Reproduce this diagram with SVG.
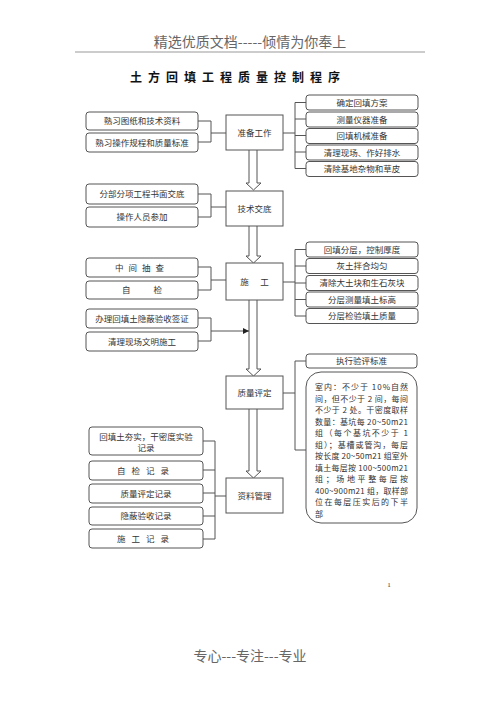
<svg xmlns="http://www.w3.org/2000/svg" width="500" height="708" viewBox="0 0 500 708">
<style>
.box{fill:#fff;stroke:#555;stroke-width:1}
.ln{fill:none;stroke:#555;stroke-width:1}
.arr{fill:#fff;stroke:#555;stroke-width:1}
.t{font-family:"Noto Sans CJK SC","Liberation Serif",serif;font-size:8.5px;fill:#333;text-anchor:middle}
.s{font-family:"Noto Sans CJK SC","Liberation Serif",serif;font-size:8px;fill:#333}
</style>
<defs>
<marker id="ah" viewBox="0 0 6 6" refX="6" refY="3" markerWidth="6" markerHeight="6" orient="auto" markerUnits="userSpaceOnUse"><path d="M0,0 L6,3 L0,6 Z" fill="#222"/></marker>
</defs>
<rect width="500" height="708" fill="#fff"/>
<text x="250" y="47" font-family="'Noto Sans CJK SC','Liberation Serif',serif" font-size="14" fill="#666" text-anchor="middle">精选优质文档-----倾情为你奉上</text>
<line x1="75" y1="52" x2="425" y2="52" stroke="#bbb" stroke-width="1.5"/>
<text x="238" y="82" font-family="'Noto Sans CJK SC','Liberation Serif',serif" font-size="12" font-weight="bold" fill="#111" text-anchor="middle" letter-spacing="6">土方回填工程质量控制程序</text>

<g id="connectors">
<!-- hollow arrows -->
<path class="arr" d="M249,150 V183 H246 L253.5,190 L261,183 H257 V150"/>
<path class="arr" d="M249,226 V256 H246 L253.5,263 L261,256 H257 V226"/>
<path class="arr" d="M249,300 V369 H246 L253.5,376 L261,369 H257 V300"/>
<path class="arr" d="M249,409 V471 H246 L253.5,478 L261,471 H257 V409"/>
<!-- left brackets -->
<path class="ln" d="M198,121 H211 V142 H198 M211,133 H226"/>
<path class="ln" d="M198,194 H211 V217 H198 M211,207 H226"/>
<path class="ln" d="M198,267 H211 V290 H198 M211,280 H226"/>
<path class="ln" d="M198,318 H211 V341 H198 M211,331 H249" marker-end="url(#ah)"/>
<path class="ln" d="M203,441 H215 V539 H203 M203,470 H215 M203,493 H215 M203,516 H215 M215,496 H226"/>
<!-- right brackets -->
<path class="ln" d="M283,133 H295 M306,102.5 H295 V168.5 H306 M295,119 H306 M295,135.5 H306 M295,152 H306"/>
<path class="ln" d="M283,282 H295 M306,249.5 H295 V316 H306 M295,266 H306 M295,283 H306 M295,299.5 H306"/>
<path class="ln" d="M283,393 H295 M306,361 H295 V450 H306"/>
</g>

<g id="n-zhunbei"><rect class="box" x="226" y="115" width="57" height="35"/><text class="t" x="254.5" y="136">准备工作</text></g>
<g id="n-jishu"><rect class="box" x="226" y="191" width="57" height="35"/><text class="t" x="254.5" y="212">技术交底</text></g>
<g id="n-shigong"><rect class="box" x="226" y="263" width="57" height="37"/><text class="t" x="254.5" y="285" xml:space="preserve">施      工</text></g>
<g id="n-zhiliang"><rect class="box" x="226" y="376" width="57" height="33"/><text class="t" x="254.5" y="396">质量评定</text></g>
<g id="n-ziliao"><rect class="box" x="226" y="478" width="57" height="35"/><text class="t" x="254.5" y="499">资料管理</text></g>

<g id="l1"><rect class="box" x="86" y="112" width="112" height="18" rx="3"/><text class="t" x="142" y="124">熟习图纸和技术资料</text></g>
<g id="l2"><rect class="box" x="86" y="133" width="112" height="19" rx="3"/><text class="t" x="142" y="146">熟习操作规程和质量标准</text></g>
<g id="l3"><rect class="box" x="86" y="184" width="112" height="20" rx="3"/><text class="t" x="142" y="197">分部分项工程书面交底</text></g>
<g id="l4"><rect class="box" x="86" y="207" width="112" height="20" rx="3"/><text class="t" x="142" y="220">操作人员参加</text></g>
<g id="l5"><rect class="box" x="86" y="258" width="112" height="19" rx="3"/><text class="t" x="142" y="270.5" letter-spacing="5">中间抽查</text></g>
<g id="l6"><rect class="box" x="86" y="281" width="112" height="18" rx="3"/><text class="t" x="142" y="293" xml:space="preserve">自            检</text></g>
<g id="l7"><rect class="box" x="86" y="309" width="112" height="19" rx="3"/><text class="t" x="142" y="321.5">办理回填土隐蔽验收签证</text></g>
<g id="l8"><rect class="box" x="86" y="332" width="112" height="19" rx="3"/><text class="t" x="142" y="344.5">清理现场文明施工</text></g>

<g id="r1"><rect class="box" x="306" y="95" width="112" height="15" rx="3"/><text class="t" x="362" y="105.5">确定回填方案</text></g>
<g id="r2"><rect class="box" x="306" y="112" width="112" height="15" rx="3"/><text class="t" x="362" y="122.5">测量仪器准备</text></g>
<g id="r3"><rect class="box" x="306" y="128.5" width="112" height="15" rx="3"/><text class="t" x="362" y="139">回填机械准备</text></g>
<g id="r4"><rect class="box" x="306" y="145" width="112" height="15" rx="3"/><text class="t" x="362" y="155.5">清理现场、作好排水</text></g>
<g id="r5"><rect class="box" x="306" y="161.5" width="112" height="15" rx="3"/><text class="t" x="362" y="172">清除基地杂物和草皮</text></g>

<g id="r6"><rect class="box" x="306" y="242" width="112" height="15" rx="3"/><text class="t" x="362" y="252.5">回填分层，控制厚度</text></g>
<g id="r7"><rect class="box" x="306" y="258.5" width="112" height="15" rx="3"/><text class="t" x="362" y="269">灰土拌合均匀</text></g>
<g id="r8"><rect class="box" x="306" y="275.5" width="112" height="15" rx="3"/><text class="t" x="362" y="286">清除大土块和生石灰块</text></g>
<g id="r9"><rect class="box" x="306" y="292" width="112" height="15" rx="3"/><text class="t" x="362" y="302.5">分层测量填土标高</text></g>
<g id="r10"><rect class="box" x="306" y="308.5" width="112" height="15" rx="3"/><text class="t" x="362" y="319">分层检验填土质量</text></g>

<g id="r11"><rect class="box" x="306" y="354" width="111" height="14" rx="3"/><text class="t" x="361.5" y="364">执行验评标准</text></g>
<g id="r12"><rect class="box" x="306" y="372" width="111" height="151" rx="15"/>
<text class="s" x="315" y="390" textLength="93" lengthAdjust="spacing">室内：不少于 10%自然</text>
<text class="s" x="315" y="401.5" textLength="93" lengthAdjust="spacing">间，但不少于 2 间，每间</text>
<text class="s" x="315" y="413" textLength="93" lengthAdjust="spacing">不少于 2 处。干密度取样</text>
<text class="s" x="315" y="424.5" textLength="93" lengthAdjust="spacing">数量：基坑每 20~50m21</text>
<text class="s" x="315" y="436" textLength="93" lengthAdjust="spacing">组（每个基坑不少于 1</text>
<text class="s" x="315" y="447.5" textLength="93" lengthAdjust="spacing">组）；基槽或管沟，每层</text>
<text class="s" x="315" y="459" textLength="93" lengthAdjust="spacing">按长度 20~50m21 组室外</text>
<text class="s" x="315" y="470.5" textLength="93" lengthAdjust="spacing">填土每层按 100~500m21</text>
<text class="s" x="315" y="482" textLength="93" lengthAdjust="spacing">组；场地平整每层按</text>
<text class="s" x="315" y="493.5" textLength="93" lengthAdjust="spacing">400~900m21 组，取样部</text>
<text class="s" x="315" y="505" textLength="93" lengthAdjust="spacing">位在每层压实后的下半</text>
<text class="s" x="315" y="516.5">部</text>
</g>

<g id="l9"><rect class="box" x="89" y="427" width="114" height="28" rx="3"/><text class="t" x="146" y="440">回填土夯实，干密度实验</text><text class="t" x="146" y="451">记录</text></g>
<g id="l10"><rect class="box" x="89" y="461" width="114" height="19" rx="3"/><text class="t" x="146" y="473.5" letter-spacing="6">自检记录</text></g>
<g id="l11"><rect class="box" x="89" y="484" width="114" height="19" rx="3"/><text class="t" x="146" y="496.5">质量评定记录</text></g>
<g id="l12"><rect class="box" x="89" y="507" width="114" height="18" rx="3"/><text class="t" x="146" y="519">隐蔽验收记录</text></g>
<g id="l13"><rect class="box" x="89" y="529" width="114" height="19" rx="3"/><text class="t" x="146" y="541.5" letter-spacing="6">施工记录</text></g>

<text x="389" y="587" font-family="'Liberation Serif',serif" font-size="7" fill="#333" text-anchor="middle">1</text>
<text x="250" y="661" font-family="'Noto Sans CJK SC','Liberation Serif',serif" font-size="14" fill="#666" text-anchor="middle">专心---专注---专业</text>
</svg>
